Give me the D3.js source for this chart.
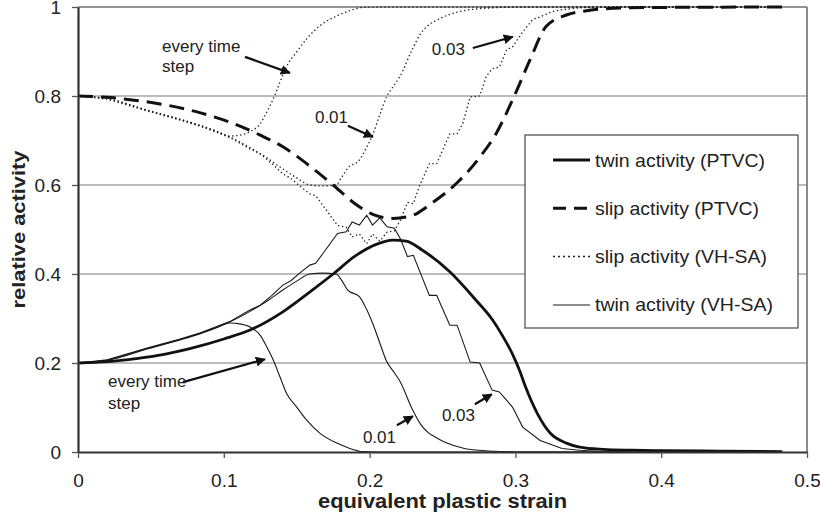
<!DOCTYPE html>
<html><head><meta charset="utf-8">
<script src="https://cdn.jsdelivr.net/npm/d3@7"></script>
<style>body{margin:0;background:#fff}svg{display:block}text{font-family:"Liberation Sans",Arial,sans-serif;fill:#222}</style>
</head><body><svg id="c" width="820" height="521"></svg>
<script>
// ---- data (x = equivalent plastic strain, y = relative activity) ----
const xTicks = [0, 0.1, 0.2, 0.3, 0.4, 0.5];
const xTickLabels = ["0", "0.1", "0.2", "0.3", "0.4", "0.5"];
const yTicks = [0, 0.2, 0.4, 0.6, 0.8, 1];
const yTickLabels = ["0", "0.2", "0.4", "0.6", "0.8", "1"];
const seriesNames = ["twin activity (PTVC)", "slip activity (PTVC)", "slip activity (VH-SA)", "twin activity (VH-SA)"];

const twinPTVC = [[0,0.200],[0.02,0.203],[0.04,0.210],[0.06,0.220],[0.08,0.235],[0.10,0.254],[0.118,0.274],[0.1405,0.315],[0.16,0.362],[0.175,0.400],[0.19,0.440],[0.205,0.467],[0.216,0.476],[0.225,0.474],[0.236,0.454],[0.255,0.405],[0.273,0.341],[0.2845,0.296],[0.291,0.262],[0.298,0.220],[0.303,0.182],[0.307,0.146],[0.315,0.087],[0.324,0.042],[0.335,0.020],[0.344,0.011],[0.36,0.006],[0.38,0.004],[0.40,0.003],[0.44,0.002],[0.483,0.001]];
const slipPTVC = [[0,0.800],[0.02,0.797],[0.04,0.790],[0.06,0.780],[0.084,0.762],[0.106,0.739],[0.125,0.712],[0.1405,0.686],[0.16,0.640],[0.175,0.600],[0.19,0.558],[0.203,0.533],[0.216,0.525],[0.228,0.530],[0.243,0.560],[0.26,0.605],[0.275,0.660],[0.287,0.717],[0.298,0.791],[0.31,0.881],[0.321,0.956],[0.335,0.982],[0.35,0.992],[0.367,0.997],[0.40,0.999],[0.483,1.0]];

const twinVH_every = [[0,0.2],[0.02,0.206],[0.048,0.232],[0.07,0.252],[0.084,0.266],[0.095,0.279],[0.104,0.290],[0.111,0.288],[0.118,0.281],[0.125,0.262],[0.1295,0.236],[0.134,0.206],[0.1385,0.169],[0.143,0.132],[0.150,0.101],[0.157,0.071],[0.166,0.042],[0.1775,0.020],[0.1865,0.008],[0.195,0.001],[0.205,0],[0.483,0]];
const twinVH_001 = [[0,0.2],[0.02,0.206],[0.048,0.233],[0.07,0.253],[0.084,0.267],[0.104,0.292],[0.118,0.316],[0.13,0.34],[0.1405,0.364],[0.15,0.384],[0.159,0.400],[0.168,0.402],[0.177,0.400],[0.181,0.385],[0.185,0.364],[0.193,0.349],[0.198,0.32],[0.202,0.29],[0.207,0.245],[0.2115,0.205],[0.217,0.178],[0.221,0.158],[0.229,0.098],[0.235,0.062],[0.240,0.044],[0.247,0.03],[0.253,0.02],[0.265,0.008],[0.275,0.004],[0.29,0.001],[0.3,0],[0.483,0]];
const twinVH_003 = [[0,0.2],[0.02,0.207],[0.048,0.234],[0.07,0.254],[0.084,0.268],[0.104,0.293],[0.118,0.319],[0.125,0.330],[0.133,0.352],[0.1405,0.375],[0.146,0.385],[0.152,0.402],[0.159,0.420],[0.163,0.424],[0.168,0.446],[0.178,0.491],[0.184,0.495],[0.188,0.517],[0.193,0.510],[0.198,0.532],[0.202,0.51],[0.207,0.526],[0.212,0.506],[0.217,0.503],[0.221,0.48],[0.226,0.439],[0.230,0.442],[0.241,0.352],[0.246,0.352],[0.255,0.285],[0.260,0.285],[0.269,0.202],[0.2755,0.200],[0.284,0.139],[0.289,0.135],[0.298,0.101],[0.305,0.056],[0.317,0.026],[0.332,0.008],[0.344,0.004],[0.36,0.001],[0.38,0],[0.483,0]];

const slipVH_every = [[0,0.8],[0.02,0.794],[0.048,0.768],[0.07,0.748],[0.084,0.734],[0.095,0.721],[0.104,0.710],[0.111,0.712],[0.118,0.72],[0.125,0.738],[0.1295,0.764],[0.134,0.794],[0.1385,0.831],[0.143,0.866],[0.150,0.899],[0.157,0.929],[0.166,0.958],[0.1775,0.980],[0.1865,0.992],[0.195,0.999],[0.205,1],[0.483,1]];
const slipVH_001 = [[0,0.8],[0.02,0.794],[0.048,0.767],[0.07,0.747],[0.084,0.733],[0.104,0.708],[0.118,0.684],[0.13,0.66],[0.1405,0.636],[0.15,0.616],[0.159,0.600],[0.168,0.598],[0.177,0.600],[0.181,0.618],[0.185,0.638],[0.193,0.656],[0.198,0.685],[0.202,0.712],[0.207,0.758],[0.2115,0.797],[0.217,0.825],[0.221,0.845],[0.229,0.903],[0.235,0.940],[0.240,0.958],[0.247,0.972],[0.253,0.981],[0.265,0.992],[0.275,0.996],[0.29,0.999],[0.3,1],[0.483,1]];
const slipVH_003 = [[0,0.8],[0.02,0.793],[0.048,0.766],[0.07,0.746],[0.084,0.732],[0.104,0.707],[0.118,0.681],[0.125,0.670],[0.133,0.648],[0.1405,0.625],[0.146,0.615],[0.152,0.598],[0.159,0.580],[0.163,0.576],[0.168,0.554],[0.178,0.509],[0.184,0.505],[0.188,0.483],[0.193,0.490],[0.198,0.468],[0.202,0.49],[0.207,0.474],[0.212,0.494],[0.217,0.497],[0.221,0.52],[0.226,0.561],[0.230,0.558],[0.234,0.596],[0.241,0.648],[0.246,0.648],[0.255,0.715],[0.260,0.715],[0.264,0.739],[0.269,0.798],[0.2755,0.80],[0.280,0.844],[0.284,0.861],[0.289,0.865],[0.294,0.904],[0.298,0.91],[0.305,0.944],[0.312,0.972],[0.317,0.978],[0.3255,0.99],[0.332,0.994],[0.344,0.998],[0.36,1],[0.483,1]];

// annotations: text lines at (x,y) data coords, arrows from -> to (data coords)
const annoTexts = [
  {x:0.0576, y:0.899, t:"every time"}, {x:0.0576, y:0.854, t:"step"},
  {x:0.1625, y:0.739, t:"0.01"},
  {x:0.2427, y:0.892, t:"0.03"},
  {x:0.0206, y:0.146, t:"every time"}, {x:0.0206, y:0.097, t:"step"},
  {x:0.1954, y:0.0196, t:"0.01"},
  {x:0.2496, y:0.069, t:"0.03"}
];
const annoArrows = [
  [[0.1145,0.888],[0.1453,0.852]],
  [[0.1851,0.733],[0.2022,0.708]],
  [[0.2708,0.908],[0.2982,0.933]],
  [[0.072,0.157],[0.1282,0.2085]],
  [[0.2187,0.0601],[0.2297,0.0803]],
  [[0.2722,0.1073],[0.2838,0.1298]]
];

// ---- drawing ----
const svg = d3.select("#c");
const x = d3.scaleLinear().domain([0, 0.5]).range([78, 807]);
const y = d3.scaleLinear().domain([0, 1]).range([452, 7]);

svg.append("rect").attr("width",820).attr("height",521).attr("fill","#fff");

// gridlines
svg.append("g").selectAll("line").data(yTicks.filter(d=>d>0 && d<1)).join("line")
  .attr("x1", x(0)).attr("x2", x(0.5)).attr("y1", d=>y(d)).attr("y2", d=>y(d))
  .attr("stroke","#7a7a7a").attr("stroke-width",1.2);
// frame top/right
svg.append("line").attr("x1",x(0)).attr("x2",x(0.5)).attr("y1",y(1)).attr("y2",y(1)).attr("stroke","#6f6f6f").attr("stroke-width",1.6);
svg.append("line").attr("x1",x(0.5)).attr("x2",x(0.5)).attr("y1",y(1)).attr("y2",y(0)).attr("stroke","#6f6f6f").attr("stroke-width",1.6);

const lineGen = d3.line().x(d=>x(d[0])).y(d=>y(d[1])).curve(d3.curveMonotoneX);
const lineLin = d3.line().x(d=>x(d[0])).y(d=>y(d[1]));

const g = svg.append("g").attr("fill","none");
// VH-SA slip dotted
[slipVH_every, slipVH_001].forEach(s => g.append("path").attr("d", lineGen(s)).attr("stroke","#222").attr("stroke-width",1.3).attr("stroke-dasharray","1.4,2.6"));
g.append("path").attr("d", lineLin(slipVH_003)).attr("stroke","#222").attr("stroke-width",1.3).attr("stroke-dasharray","1.4,2.6");
// VH-SA twin thin
[twinVH_every, twinVH_001].forEach(s => g.append("path").attr("d", lineGen(s)).attr("stroke","#1a1a1a").attr("stroke-width",1.1));
g.append("path").attr("d", lineLin(twinVH_003)).attr("stroke","#1a1a1a").attr("stroke-width",1.1);
// PTVC
g.append("path").attr("d", lineGen(slipPTVC)).attr("stroke","#111").attr("stroke-width",3).attr("stroke-dasharray","15,8");
g.append("path").attr("d", lineGen(twinPTVC)).attr("stroke","#111").attr("stroke-width",2.8);

// axes
const xAxis = d3.axisBottom(x).tickValues(xTicks).tickFormat((d,i)=>xTickLabels[i]).tickSize(6).tickSizeOuter(0);
const yAxis = d3.axisLeft(y).tickValues(yTicks).tickFormat((d,i)=>yTickLabels[i]).tickSize(6).tickSizeOuter(0);
const gx = svg.append("g").attr("transform",`translate(0,${y(0)})`).call(xAxis);
const gy = svg.append("g").attr("transform",`translate(${x(0)},0)`).call(yAxis);
[gx, gy].forEach(a => {
  a.select(".domain").attr("stroke","#333").attr("stroke-width",2.2);
  a.selectAll(".tick line").attr("stroke","#555").attr("stroke-width",1.3);
  a.selectAll(".tick text").attr("font-family","Liberation Sans, Arial, sans-serif").attr("font-size",19).attr("fill","#222");
});
gx.selectAll(".tick text").attr("y",22);
gy.selectAll(".tick text").attr("x",-17);

// axis titles
svg.append("text").attr("x",(x(0)+x(0.5))/2).attr("y",508).attr("text-anchor","middle")
  .attr("font-weight","bold").attr("font-size",20).attr("textLength",249).attr("lengthAdjust","spacingAndGlyphs")
  .text("equivalent plastic strain");
svg.append("text").attr("transform",`translate(25,${(y(0)+y(1))/2}) rotate(-90)`).attr("text-anchor","middle")
  .attr("font-weight","bold").attr("font-size",19).attr("textLength",158).attr("lengthAdjust","spacingAndGlyphs")
  .text("relative activity");

// annotations
svg.append("defs").append("marker").attr("id","ah").attr("viewBox","0 0 10 10").attr("refX",9).attr("refY",5)
  .attr("markerWidth",10).attr("markerHeight",10).attr("markerUnits","userSpaceOnUse").attr("orient","auto")
  .append("path").attr("d","M0,0 L10,5 L0,10 z").attr("fill","#111");
svg.append("g").selectAll("line").data(annoArrows).join("line")
  .attr("x1",d=>x(d[0][0])).attr("y1",d=>y(d[0][1])).attr("x2",d=>x(d[1][0])).attr("y2",d=>y(d[1][1]))
  .attr("stroke","#111").attr("stroke-width",2.2).attr("marker-end","url(#ah)");
svg.append("g").selectAll("text").data(annoTexts).join("text")
  .attr("x",d=>x(d.x)).attr("y",d=>y(d.y)).attr("font-size",17).text(d=>d.t);

// legend
const lg = svg.append("g");
lg.append("rect").attr("x",525).attr("y",135).attr("width",273).attr("height",193).attr("fill","#fff").attr("stroke","#555").attr("stroke-width",1.3);
const legStyles = [
  {w:2.8, dash:null, c:"#111"},
  {w:3, dash:"13,8", c:"#111"},
  {w:1.5, dash:"2,3", c:"#222"},
  {w:1.5, dash:null, c:"#666"}
];
seriesNames.forEach((n,i)=>{
  const cy = 160 + i*48.3;
  lg.append("line").attr("x1",553).attr("x2",590).attr("y1",cy).attr("y2",cy)
    .attr("stroke",legStyles[i].c).attr("stroke-width",legStyles[i].w).attr("stroke-dasharray",legStyles[i].dash);
  lg.append("text").attr("x",595).attr("y",cy+6.5).attr("font-size",19).attr("textLength",[170,164,172,178][i]).attr("lengthAdjust","spacingAndGlyphs").text(n);
});
</script></body></html>
